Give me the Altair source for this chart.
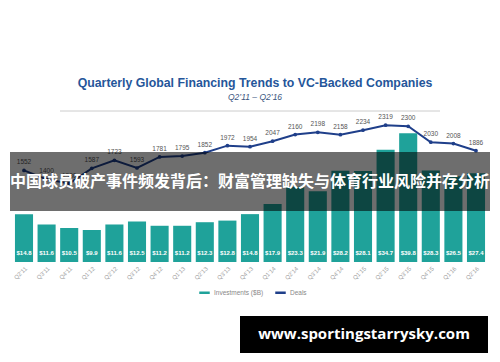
import altair as alt
import pandas as pd

quarters = ["Q2’11", "Q3’11", "Q4’11", "Q1’12", "Q2’12", "Q3’12", "Q4’12",
            "Q1’13", "Q2’13", "Q3’13", "Q4’13", "Q1’14", "Q2’14", "Q3’14",
            "Q4’14", "Q1’15", "Q2’15", "Q3’15", "Q4’15", "Q1’16", "Q2’16"]
investments = [14.8, 11.6, 10.5, 9.9, 11.6, 12.5, 11.2, 11.2, 12.3, 12.8, 14.8,
               17.9, 23.3, 21.9, 28.2, 28.1, 34.7, 39.8, 28.3, 26.5, 27.4]
deals = [1552, 1400, 1330, 1587, 1723, 1593, 1781, 1795, 1852, 1972, 1954,
         2047, 2160, 2198, 2158, 2234, 2319, 2300, 2030, 2008, 1886]

title_text = "Quarterly Global Financing Trends to VC-Backed Companies"
subtitle_text = "Q2’11 – Q2’16"
banner_text = "中国球员破产事件频发背后：财富管理缺失与体育行业风险并存分析"
watermark_text = "www.sportingstarrysky.com"

TEAL = "#1fa29a"
NAVY = "#1f3f8a"
FONT = "Liberation Sans"

df = pd.DataFrame({"quarter": quarters, "inv": investments, "deals": deals})
one = pd.DataFrame({"k": [0]})

x = alt.X("quarter:N", sort=quarters,
          scale=alt.Scale(range=[12.7, 487.3], paddingInner=0.2, paddingOuter=0.1),
          axis=alt.Axis(title=None, labelAngle=-45, labelFontSize=6, labelColor="#a0a0a0",
                        domain=False, ticks=False, labelPadding=3, labelFont=FONT))

y_inv = alt.Y("inv:Q", scale=alt.Scale(domain=[0, 81]), axis=None)
y_deal = alt.Y("deals:Q", scale=alt.Scale(domain=[0, 4440]), axis=None)

color_scale = alt.Scale(domain=["Investments ($B)", "Deals"], range=[TEAL, NAVY])
color_legend = alt.Legend(title=None, orient="none", legendX=198, legendY=286,
                          direction="horizontal", symbolType="stroke", symbolStrokeWidth=2.5,
                          symbolSize=110, labelFontSize=6.5, labelColor="#888888",
                          labelFont=FONT, columnPadding=6, labelOffset=3)
color = alt.Color("series:N", scale=color_scale, legend=color_legend)

base = alt.Chart(df)

line = base.transform_calculate(series="'Deals'").mark_line(strokeWidth=2).encode(
    x=x, y=y_deal, color=color)
bars = base.transform_calculate(series="'Investments ($B)'").mark_bar().encode(
    x=x, y=y_inv, color=color)
bar_labels = base.mark_text(color="white", fontSize=6, fontWeight="bold", font=FONT,
                            baseline="middle").encode(
    x=x, y=alt.value(253), text=alt.Text("inv:Q", format="$.1f"))
points = base.mark_point(filled=True, size=14, color=NAVY, opacity=1).encode(x=x, y=y_deal)
deal_labels = base.mark_text(dy=-8, fontSize=6.5, color="#555555", font=FONT).encode(
    x=x, y=y_deal, text=alt.Text("deals:Q", format="d"))

banner = alt.Chart(one).mark_rect(color="#000000", opacity=0.57).encode(
    x=alt.value(10), x2=alt.value(490), y=alt.value(152), y2=alt.value(211))
banner_t = alt.Chart(one).mark_text(color="white", fontSize=16, fontWeight="bold",
                                    font="Noto Sans CJK SC", baseline="middle").encode(
    x=alt.value(250), y=alt.value(182), text=alt.value(banner_text))

title = alt.Chart(one).mark_text(color="#25569a", fontSize=12.3, fontWeight="bold",
                                 font=FONT, baseline="middle").encode(
    x=alt.value(255), y=alt.value(83), text=alt.value(title_text))
subtitle = alt.Chart(one).mark_text(color="#3a5580", fontSize=8.5, fontStyle="italic",
                                    font=FONT, baseline="middle").encode(
    x=alt.value(255), y=alt.value(97), text=alt.value(subtitle_text))
sep = alt.Chart(one).mark_rule(color="#cccccc", strokeWidth=1).encode(
    x=alt.value(60), x2=alt.value(440), y=alt.value(111))

wm_rect = alt.Chart(one).mark_rect(color="#000000").encode(
    x=alt.value(240), x2=alt.value(488), y=alt.value(316), y2=alt.value(353))
wm_text = alt.Chart(one).mark_text(color="white", fontSize=15, fontWeight="bold",
                                   font="Open Sans", baseline="middle").encode(
    x=alt.value(364), y=alt.value(334), text=alt.value(watermark_text))

chart = alt.layer(
    line, bars, bar_labels, points, deal_labels,
    banner, banner_t, title, subtitle, sep, wm_rect, wm_text
).resolve_scale(y="independent").properties(
    width=500, height=262, autosize="none",
    padding={"left": 0, "top": 0, "right": 0, "bottom": 100},
    background="white"
).configure_view(strokeWidth=0)

chart.save("out.html", embed_options={"renderer": "svg", "actions": False})
